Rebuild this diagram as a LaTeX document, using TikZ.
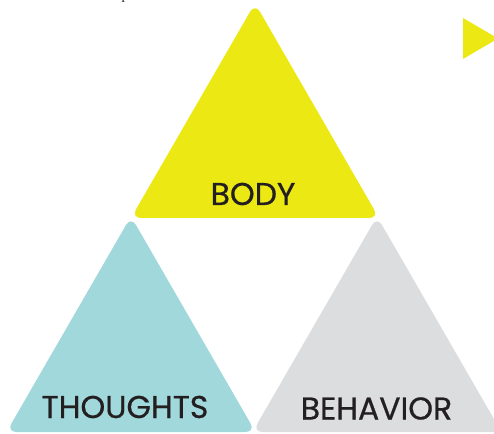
\documentclass[tikz,border=0pt]{standalone}
\usepackage{fontspec}
\setmainfont{Poppins}[FakeBold=0.6]
\newfontfamily\serifpart{Liberation Serif}
\definecolor{bodyyellow}{HTML}{ECE813}
\definecolor{thoughtteal}{HTML}{A0D8DC}
\definecolor{behavgray}{HTML}{DCDDDF}
\definecolor{labelink}{HTML}{231F20}
\tikzset{
  tri/.style={rounded corners=10pt},
  lbl/.style={anchor=base, inner sep=0pt, text=labelink, font=\fontsize{31.5}{31.5}\selectfont}
}
\begin{document}
\begin{tikzpicture}[x=1pt,y=1pt]
\useasboundingbox (0,0) rectangle (494,433);
\clip (0,0) rectangle (494,433);
\fill[white] (0,0) rectangle (494,433);
% cut-off letter at top
\node[anchor=base, inner sep=0pt, text=labelink, font=\serifpart\fontsize{14}{14}\selectfont] (frag) at (125,433.5) {p};
% BODY triangle
\fill[bodyyellow, tri] (131,215) -- (379,215) -- (255,429.8) -- cycle;
% THOUGHTS triangle
\fill[thoughtteal, tri] (6.5,1) -- (255.5,1) -- (131,216.6) -- cycle;
% BEHAVIOR triangle
\fill[behavgray, tri] (252.5,1) -- (501.5,1) -- (377,216.6) -- cycle;
% small pointer
\fill[bodyyellow] (463,415) -- (463,374) -- (498,394.5) -- cycle;
% labels
\node[lbl] (body) at (253,228) {BODY};
\node[lbl] (thoughts) at (125,15) {THOUGHTS};
\node[lbl] (behavior) at (376.5,13.5) {BEHAVIOR};
\end{tikzpicture}
\end{document}
